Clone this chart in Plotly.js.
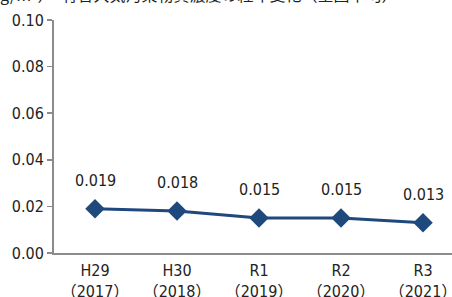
<!DOCTYPE html>
<html><head><meta charset="utf-8">
<script src="https://cdn.plot.ly/plotly-3.0.1.min.js"></script>
<style>html,body{margin:0;padding:0;overflow:hidden;background:#fff;width:452px;height:297px}#c{width:464px;height:297px}</style>
</head><body><div id="c"></div>
<script>
var categories = ["H29<br>（2017）", "H30<br>（2018）", "R1<br>（2019）", "R2<br>（2020）", "R3<br>（2021）"];
var values = [0.019, 0.018, 0.015, 0.015, 0.013];
var valueLabels = ["0.019", "0.018", "0.015", "0.015", "0.013"];
var yTicks = [0, 0.02, 0.04, 0.06, 0.08, 0.10];
var yTickLabels = ["0.00", "0.02", "0.04", "0.06", "0.08", "0.10"];
var titleText = "（μg/m³）　有害大気汚染物質濃度の経年変化（全国平均）";

var font = "DejaVu Sans Condensed, Noto Sans CJK JP, sans-serif";
var idx = categories.map(function(_, i){return i;});
var trace = {
  x: idx, y: values, type: "scatter", mode: "lines+markers",
  line: {color: "#1F497D", width: 3},
  marker: {symbol: "diamond", size: 15, color: "#1F497D"},
  hoverinfo: "skip"
};
var ann = values.map(function(v, i){
  return {x: i, y: v, xref: "x", yref: "y", text: valueLabels[i], showarrow: false,
    yanchor: "bottom", yshift: 17, font: {family: font, size: 16, color: "#222"}};
});
ann.push({xref: "paper", yref: "paper", x: -0.2, y: 1.0, yshift: 12, xanchor: "left", yanchor: "bottom",
  text: titleText, showarrow: false, font: {family: "Noto Sans CJK JP", size: 16, color: "#222"}});
var layout = {
  width: 464, height: 297,
  margin: {l: 54, r: 0, t: 20, b: 44},
  paper_bgcolor: "#fff", plot_bgcolor: "#fff",
  showlegend: false,
  xaxis: {range: [-0.5, 4.5], tickvals: idx, ticktext: categories, showgrid: false, zeroline: false,
    showline: true, linecolor: "#8c8c8c", linewidth: 2, ticks: "", fixedrange: true,
    ticklabeloverflow: "allow", ticklabelstandoff: 2,
    tickfont: {family: font, size: 16, color: "#222"}},
  yaxis: {range: [0, 0.1], tickvals: yTicks, ticktext: yTickLabels, showgrid: false, zeroline: false,
    showline: true, linecolor: "#8c8c8c", linewidth: 2, ticks: "outside", ticklen: 5, tickcolor: "#8c8c8c",
    tickwidth: 1.5, fixedrange: true, tickfont: {family: font, size: 16, color: "#222"}},
  annotations: ann
};
Plotly.newPlot("c", [trace], layout, {displayModeBar: false, staticPlot: true});
</script></body></html>
